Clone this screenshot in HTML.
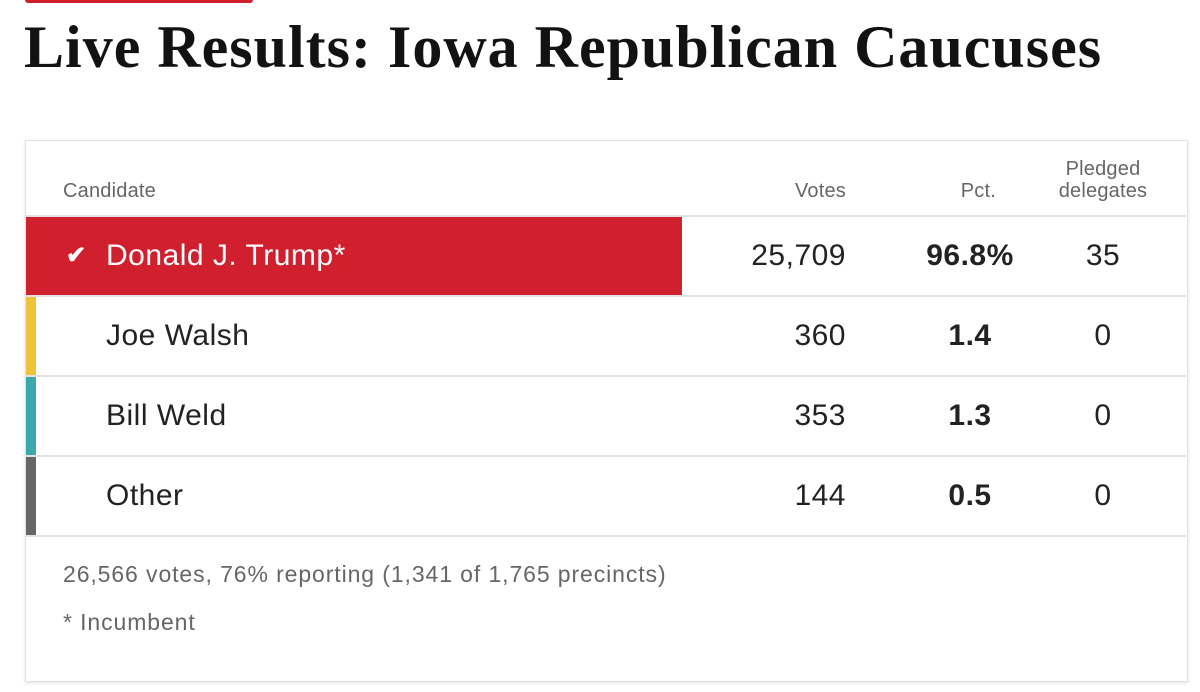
<!DOCTYPE html>
<html><head><meta charset="utf-8"><style>
body{margin:0;width:1200px;height:692px;background:#fff;position:relative;overflow:hidden;font-family:"Liberation Sans",sans-serif}
.abs{position:absolute}
#topbar{left:25px;top:-6px;width:228px;height:9px;background:#d0202e;border-radius:3px}
#title{left:24px;top:13px;font-family:"Liberation Serif",serif;font-weight:bold;font-size:60px;color:#121212;letter-spacing:1px;white-space:nowrap}
#card{left:25px;top:140px;width:1161px;height:540px;border:1px solid #e2e2e2;box-shadow:0 1px 3px rgba(0,0,0,.12);background:#fff}
.hd{color:#666;font-size:20px;line-height:22px;letter-spacing:0.2px}
.cell{font-size:30px;color:#222;line-height:80px;white-space:nowrap;letter-spacing:0.5px}
.line{left:26px;width:1160px;height:2px;background:#e2e2e2}
.foot{color:#666;font-size:23px;left:63px;letter-spacing:0.9px;white-space:nowrap}
</style></head><body>
<div id="topbar" class="abs"></div>
<div id="title" class="abs">Live Results: Iowa Republican Caucuses</div>
<div id="card" class="abs"></div>
<div class="abs hd" style="left:63px;top:180px">Candidate</div>
<div class="abs hd" style="right:354px;top:180px">Votes</div>
<div class="abs hd" style="right:204px;top:180px">Pct.</div>
<div class="abs hd" style="left:1043px;width:120px;text-align:center;top:158px">Pledged<br>delegates</div>
<div id="rows"></div>
<div class="abs foot" style="top:561px">26,566 votes, 76% reporting (1,341 of 1,765 precincts)</div>
<div class="abs foot" style="top:609px">* Incumbent</div>
<script>
const candidates=["Donald J. Trump*","Joe Walsh","Bill Weld","Other"];
const votes=[25709,360,353,144];
const pcts=[96.8,1.4,1.3,0.5];
const delegates=[35,0,0,0];
const colors=["#d0202e","#f0c23a","#3aa8ad","#666666"];
const rows=document.getElementById('rows');
function mk(cls,style,txt){const d=document.createElement('div');d.className='abs '+cls;d.style.cssText=style;if(txt!==undefined)d.textContent=txt;rows.appendChild(d);return d;}
const top0=216,rh=80;
candidates.forEach((c,i)=>{
  const y=top0+i*rh;
  const line=mk('line','top:'+(y-1)+'px');
  
  
  if(i===0){
    const bar=mk('','left:26px;top:'+(y+1)+'px;width:'+(656*pcts[i]/96.8)+'px;height:'+(rh-2)+'px;background:'+colors[i]);
    
    
    const ck=mk('cell','left:66px;top:'+y+'px;color:#fff;font-size:24px;font-weight:bold','✔');
    
    
  } else {
    const sw=mk('','left:26px;top:'+(y+1)+'px;width:10px;height:'+(rh-2)+'px;background:'+colors[i]);
    
    
  }
  const n=mk('cell','left:106px;top:'+y+'px;'+(i===0?'color:#fff':''),c);
  
  
  const v=mk('cell','right:354px;top:'+y+'px',votes[i].toLocaleString('en-US'));
  
  
  const p=mk('cell','left:900px;width:140px;text-align:center;top:'+y+'px;font-weight:bold',pcts[i].toFixed(1)+(i===0?'%':''));
  
  
  const d=mk('cell','left:1043px;width:120px;text-align:center;top:'+y+'px',String(delegates[i]));
  
  
});
const last=mk('line','top:'+(top0+candidates.length*rh-1)+'px');


</script>
</body></html>
